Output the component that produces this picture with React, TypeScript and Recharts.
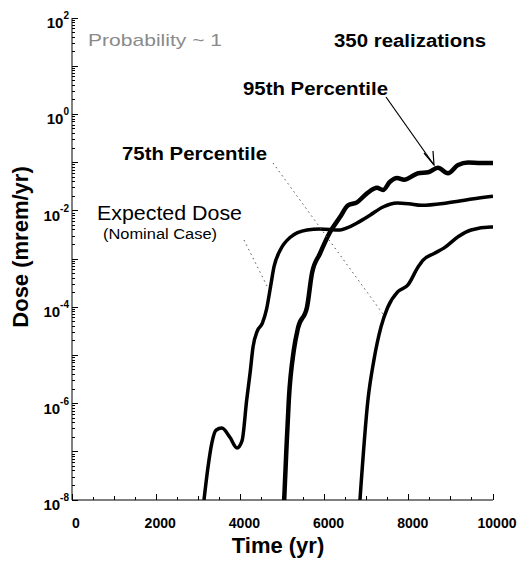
import { LineChart, Line, XAxis, YAxis } from 'recharts'

// time (yr) / dose (mrem/yr)
const expectedTime = [3135, 3230, 3320, 3420, 3560, 3750, 3920, 4040, 4150, 4230, 4300, 4400, 4520, 4620, 4720, 4800, 4941, 5178, 5582, 5891, 6366, 6532, 6770, 7078, 7387, 7720, 8000, 8300, 8900, 9500, 10000]
const expectedDose = [1e-8, 4.8e-8, 1.5e-7, 2.8e-7, 3.1e-7, 2.0e-7, 1.2e-7, 1.7e-7, 1.2e-6, 4.3e-6, 1.5e-5, 3.2e-5, 4.6e-5, 9.0e-5, 2.8e-4, 7.0e-4, 1.5e-3, 2.8e-3, 4.0e-3, 4.2e-3, 4.0e-3, 4.4e-3, 5.6e-3, 8.1e-3, 1.2e-2, 1.45e-2, 1.4e-2, 1.3e-2, 1.45e-2, 1.75e-2, 2.0e-2]

const p95Time = [5040, 5090, 5150, 5270, 5368, 5582, 5701, 5891, 6128, 6366, 6556, 6770, 7007, 7245, 7387, 7553, 7720, 7890, 8220, 8460, 8690, 8930, 9170, 9410, 9710, 10000]
const p95Dose = [1e-8, 1e-7, 1.2e-6, 1.3e-5, 3.7e-5, 1e-4, 5.1e-4, 1.3e-3, 3.6e-3, 7.4e-3, 1.3e-2, 1.5e-2, 2.3e-2, 3.0e-2, 2.7e-2, 4.0e-2, 4.8e-2, 4.4e-2, 6.0e-2, 6.3e-2, 7.8e-2, 6.0e-2, 8.9e-2, 0.1, 0.098, 0.098]

const p75Time = [6840, 7030, 7170, 7340, 7500, 7740, 7980, 8220, 8340, 8600, 8840, 9170, 9480, 9950, 10000]
const p75Dose = [1e-8, 1.2e-6, 7.9e-6, 3.9e-5, 1e-4, 2.1e-4, 2.9e-4, 6.8e-4, 9.5e-4, 1.3e-3, 1.7e-3, 2.9e-3, 4.0e-3, 4.6e-3, 4.6e-3]

const timeTicks = [0, 500, 1000, 1500, 2000, 2500, 3000, 3500, 4000, 4500, 5000, 5500, 6000, 6500, 7000, 7500, 8000, 8500, 9000, 9500, 10000]
const timeLabels = [0, 2000, 4000, 6000, 8000, 10000]
const decades = [-8, -7, -6, -5, -4, -3, -2, -1, 0, 1, 2]
const doseLabelExps = [-8, -6, -4, -2, 0, 2]

const toRows = (t: number[], d: number[]) => t.map((time, i) => ({ t: time, dose: d[i] }))
const expectedData = toRows(expectedTime, expectedDose)
const p95Data = toRows(p95Time, p95Dose)
const p75Data = toRows(p75Time, p75Dose)

// decade ticks plus the 2..9 minor ticks
const doseTicks: number[] = []
decades.forEach((e) => {
  doseTicks.push(Math.pow(10, e))
  if (e < 2) for (let k = 2; k <= 9; k++) doseTicks.push(k * Math.pow(10, e))
})

const FONT = '"Liberation Sans", Arial, sans-serif'

const expOf = (v: number) => {
  const l = Math.log10(v)
  return Math.abs(l - Math.round(l)) < 1e-6 ? Math.round(l) : null
}

const BottomTick = (props: any) => {
  const { x, y, payload } = props
  const v = payload.value
  const len = v % 2000 === 0 ? 6 : v % 1000 === 0 ? 4 : 3
  return (
    <g>
      <line x1={x} x2={x} y1={y} y2={y - len} stroke="#000" shapeRendering="crispEdges" />
      {timeLabels.includes(v) && (
        <text x={x + 4} y={y + 28} textAnchor="middle" fontFamily={FONT} fontWeight="bold" fontSize={14} fill="#000">
          {v}
        </text>
      )}
    </g>
  )
}

const TopTick = (props: any) => {
  const { x, y, payload } = props
  const v = payload.value
  const len = v % 1000 === 0 ? 5 : 3
  return <line x1={x} x2={x} y1={y} y2={y + len} stroke="#000" shapeRendering="crispEdges" />
}

const LeftTick = (props: any) => {
  const { x, y, payload } = props
  const e = expOf(payload.value)
  const len = e !== null ? 6 : 3
  return (
    <g>
      <line x1={x} x2={x + len} y1={y} y2={y} stroke="#000" shapeRendering="crispEdges" />
      {e !== null && doseLabelExps.includes(e) && (
        <text x={x - 3} y={y + 10} textAnchor="end" fontFamily={FONT} fontWeight="bold" fontSize={15} fill="#000">
          10
          <tspan dy={-9} fontSize={10}>{e}</tspan>
        </text>
      )}
    </g>
  )
}

const RightTick = (props: any) => {
  const { x, y, payload } = props
  const len = expOf(payload.value) !== null ? 6 : 3
  return <line x1={x} x2={x - len} y1={y} y2={y} stroke="#000" shapeRendering="crispEdges" />
}

const Annotations = () => (
  <svg width={522} height={570} style={{ position: 'absolute', left: 0, top: 0, pointerEvents: 'none' }}>
    <text x={88} y={46} fontFamily={FONT} fontSize={17} fill="#8a8a8a" textLength={134} lengthAdjust="spacingAndGlyphs">
      Probability ~ 1
    </text>
    <text x={334} y={47} fontFamily={FONT} fontWeight="bold" fontSize={18} textLength={152} lengthAdjust="spacingAndGlyphs">
      350 realizations
    </text>
    <text x={243} y={95} fontFamily={FONT} fontWeight="bold" fontSize={18} textLength={145} lengthAdjust="spacingAndGlyphs">
      95th Percentile
    </text>
    <line x1={386} y1={97} x2={434} y2={165} stroke="#000" strokeWidth={1.2} />
    <polyline points="424,153 434,165 433,151" fill="none" stroke="#000" strokeWidth={1.2} />
    <text x={122} y={160} fontFamily={FONT} fontWeight="bold" fontSize={18} textLength={145} lengthAdjust="spacingAndGlyphs">
      75th Percentile
    </text>
    <line x1={273} y1={163} x2={383} y2={314} stroke="#555" strokeWidth={1} strokeDasharray="1.5 3.5" />
    <text x={97} y={220} fontFamily={FONT} fontSize={20} textLength={145} lengthAdjust="spacingAndGlyphs">
      Expected Dose
    </text>
    <text x={103} y={239} fontFamily={FONT} fontSize={14} textLength={114} lengthAdjust="spacingAndGlyphs">
      (Nominal Case)
    </text>
    <line x1={244} y1={240} x2={269} y2={290} stroke="#555" strokeWidth={1} strokeDasharray="1.5 3.5" />
    <text x={278} y={553} textAnchor="middle" fontFamily={FONT} fontWeight="bold" fontSize={22}>
      Time (yr)
    </text>
    <text x={28} y={247} textAnchor="middle" fontFamily={FONT} fontWeight="bold" fontSize={22} transform="rotate(-90 28 247)">
      Dose (mrem/yr)
    </text>
  </svg>
)

export default function App() {
  return (
    <div style={{ position: 'relative', width: 522, height: 570, background: '#fff' }}>
      <style>{'body{margin:0}'}</style>
      <LineChart width={522} height={570} margin={{ top: 18, right: 29, bottom: 0, left: 0 }}>
        <XAxis
          dataKey="t"
          type="number"
          domain={[0, 10000]}
          ticks={timeTicks}
          interval={0}
          tickSize={0}
          tickMargin={0}
          tick={BottomTick}
          axisLine={{ stroke: '#000' }}
          height={70}
          allowDataOverflow
        />
        <XAxis
          xAxisId="top"
          orientation="top"
          dataKey="t"
          type="number"
          domain={[0, 10000]}
          ticks={timeTicks}
          interval={0}
          tickSize={0}
          tickMargin={0}
          tick={TopTick}
          axisLine={{ stroke: '#000' }}
          height={0}
          allowDataOverflow
        />
        <YAxis
          type="number"
          scale="log"
          domain={[1e-8, 100]}
          ticks={doseTicks}
          interval={0}
          tickSize={0}
          tickMargin={0}
          tick={LeftTick}
          axisLine={{ stroke: '#000' }}
          width={72}
          allowDataOverflow
        />
        <YAxis
          yAxisId="right"
          orientation="right"
          type="number"
          scale="log"
          domain={[1e-8, 100]}
          ticks={doseTicks}
          interval={0}
          tickSize={0}
          tickMargin={0}
          tick={RightTick}
          axisLine={{ stroke: '#000' }}
          width={0}
          allowDataOverflow
        />
        <Line data={expectedData} dataKey="dose" type="monotone" stroke="#000" strokeWidth={3.5} dot={false} isAnimationActive={false} />
        <Line data={p95Data} dataKey="dose" type="monotone" stroke="#000" strokeWidth={4.5} dot={false} isAnimationActive={false} />
        <Line data={p75Data} dataKey="dose" type="monotone" stroke="#000" strokeWidth={3.5} dot={false} isAnimationActive={false} />
      </LineChart>
      <Annotations />
    </div>
  )
}
